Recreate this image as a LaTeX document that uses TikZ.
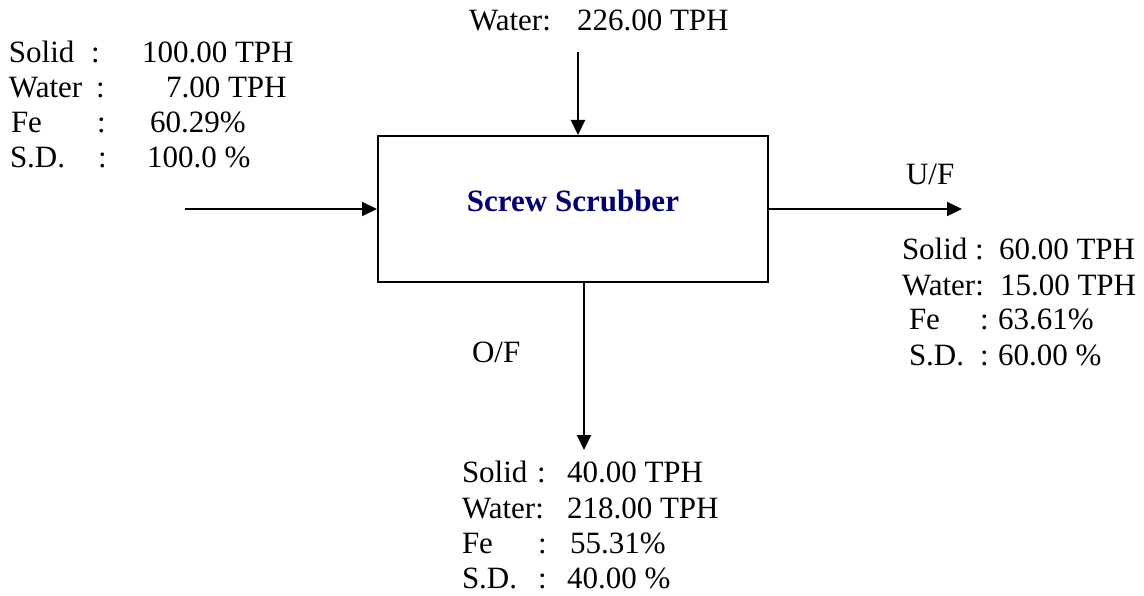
\documentclass[tikz,border=0pt]{standalone}
\usepackage{fontspec}
\setmainfont{Liberation Serif}
\usetikzlibrary{arrows.meta}
\definecolor{navyblue}{RGB}{0,0,110}
\newcommand{\fs}{\fontsize{31}{35}\selectfont}
\newcommand{\rowx}[8]{%
  \node[txt] (#1-l) at (#3,#2) {#4};
  \node[txt] (#1-c) at (#5,#2) {#6};
  \node[txt] (#1-v) at (#7,#2) {#8};}
\begin{document}
\begin{tikzpicture}[x=1pt,y=-1pt,
  txt/.style={anchor=base west,inner sep=0pt,outer sep=0pt,font=\fs},
  unitbox/.style={draw,line width=2pt,minimum width=390pt,minimum height=146pt,inner sep=0pt,font=\fs\bfseries,text=navyblue},
  flow/.style={line width=2pt,-{Triangle[length=15pt,width=14pt]}}]
\useasboundingbox (0,0) rectangle (1144,596);
\node[unitbox] (box) at (573,209) {};
\node[anchor=base,inner sep=0pt,font=\fs\bfseries,text=navyblue] (title) at (573,212) {Screw Scrubber};
% coordinates for free ends
\coordinate (topin) at (578,52);
\coordinate (leftin) at (185,209);
\coordinate (rightout) at (962,209);
\coordinate (botout) at (584,450);
\draw[flow] (topin) -- (topin |- box.north);
\draw[flow] (leftin) -- (leftin -| box.west);
\draw[flow] (rightout -| box.east) -- (rightout);
\draw[flow] (botout |- box.south) -- (botout);
% top feed
\node[txt] (tw-l) at (469,31) {Water:};
\node[txt] (tw-v) at (577,31) {226.00 TPH};
% left feed
\rowx{fa}{63}{9}{Solid}{91}{:}{142}{100.00 TPH}
\rowx{fb}{98}{9}{Water}{96}{:}{166}{7.00 TPH}
\rowx{fc}{133}{11}{Fe}{97}{:}{150}{60.29\%}
\rowx{fd}{168}{10}{S.D.}{98}{:}{147}{100.0 \%}
% underflow
\node[txt] (uf) at (906,185) {U/F};
\rowx{ua}{260}{902}{Solid}{975}{:}{999}{60.00 TPH}
\node[txt] (ub-l) at (902,295) {Water:};
\node[txt] (ub-v) at (1000,295) {15.00 TPH};
\rowx{uc}{330}{909}{Fe}{980}{:}{998}{63.61\%}
\rowx{ud}{365}{909}{S.D.}{980}{:}{998}{60.00 \%}
% overflow
\node[txt] (of) at (472,362) {O/F};
\rowx{oa}{482}{462}{Solid}{537}{:}{567}{40.00 TPH}
\node[txt] (ob-l) at (462,518) {Water:};
\node[txt] (ob-v) at (567,518) {218.00 TPH};
\rowx{oc}{553}{462}{Fe}{538}{:}{570}{55.31\%}
\rowx{od}{588}{462}{S.D.}{538}{:}{567}{40.00 \%}
\end{tikzpicture}
\end{document}
